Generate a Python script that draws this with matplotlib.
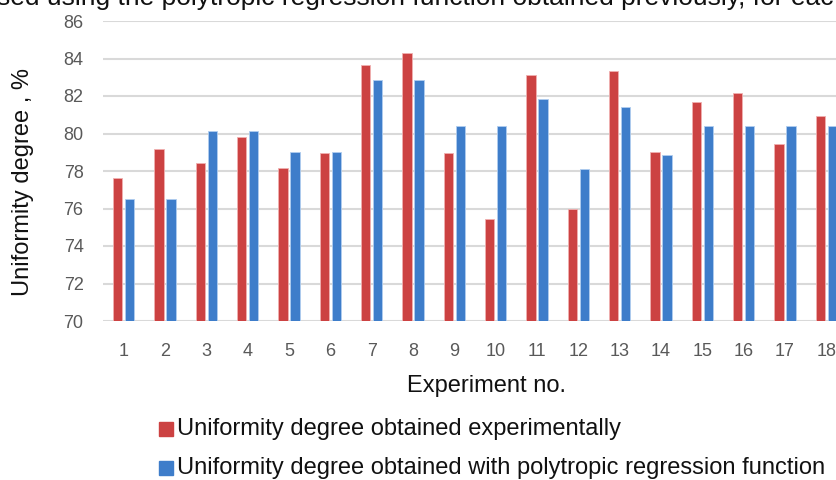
import matplotlib
matplotlib.use("Agg")
import matplotlib.pyplot as plt
import numpy as np

experiments = [str(i) for i in range(1, 19)]
experimental = [77.65, 79.15, 78.4, 79.8, 78.15, 78.95, 83.65, 84.27, 78.95,
                75.45, 83.1, 75.95, 83.35, 79.03, 81.7, 82.17, 79.45, 80.96]
regression = [76.5, 76.5, 80.16, 80.16, 79.03, 79.03, 82.85, 82.85, 80.4,
              80.4, 81.83, 78.1, 81.4, 78.83, 80.4, 80.4, 80.4, 80.4]
yticks = [70, 72, 74, 76, 78, 80, 82, 84, 86]

red = "#CC4242"
blue = "#3E7DCA"
gray_txt = "#595959"
main_font = ["Liberation Sans", "DejaVu Sans"]
tick_font = ["Liberation Sans Narrow", "Liberation Sans", "DejaVu Sans"]

fig = plt.figure(figsize=(8.37, 4.8), dpi=100)
ax = fig.add_axes([103/837, 1-321/480, 744/837, 300/480])

x = np.arange(len(experiments))
w = 0.23
ax.bar(x - 0.145, np.array(experimental) - 70, w, bottom=70, color=red,
       edgecolor="#F0B0B0", linewidth=0.6, zorder=3)
ax.bar(x + 0.145, np.array(regression) - 70, w, bottom=70, color=blue,
       edgecolor="#B0CDEF", linewidth=0.6, zorder=3)

ax.set_xlim(-0.5, len(experiments) - 0.5)
ax.set_ylim(70, 86)
ax.set_yticks(yticks)
ax.set_xticks(x)
ax.set_xticklabels(experiments)
ax.grid(axis="y", color="#D9D9D9", linewidth=1.5, zorder=0)
for s in ax.spines.values():
    s.set_visible(False)
ax.tick_params(length=0, colors=gray_txt, labelsize=13)
ax.tick_params(axis="y", pad=14)
ax.tick_params(axis="x", pad=16)
for lab in ax.get_xticklabels() + ax.get_yticklabels():
    lab.set_family(tick_font)

fig.text(23/837, 1-182/480, "Uniformity degree , %", rotation=90, ha="center",
         va="center", fontsize=17, family=main_font, color="#111111")
fig.text(487/837, 1-386/480, "Experiment no.", ha="center", va="center",
         fontsize=17, family=main_font, color="#111111")

# legend
for yy, col, txt in [(429, red, "Uniformity degree obtained experimentally"),
                     (468, blue, "Uniformity degree obtained with polytropic regression function")]:
    fig.patches.append(plt.Rectangle((159/837, 1-(yy+7)/480), 14/837, 14/480,
                                     transform=fig.transFigure, color=col))
    fig.text(177/837, 1-yy/480, txt, ha="left", va="center", fontsize=17,
             family=main_font, color="#111111")

fig.text(-3/837, 1-5/480, "sed using the polytropic regression function obtained previously, for eac",
         ha="left", va="baseline", fontsize=19, family=main_font, color="#111111")

fig.savefig("out.png", dpi=100)
